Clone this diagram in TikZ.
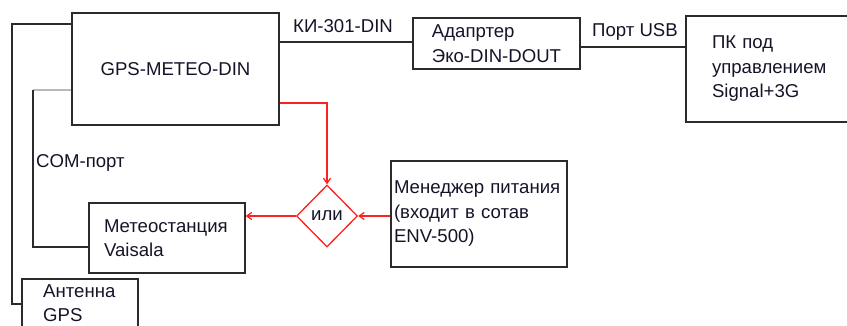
\documentclass[tikz,border=0pt]{standalone}
\usepackage{fontspec}
\setmainfont{Liberation Sans}
\usetikzlibrary{shapes.geometric,arrows.meta}
\definecolor{lineclr}{HTML}{2B2B2B}
\definecolor{redclr}{HTML}{FF2020}
\definecolor{txtclr}{HTML}{141428}
\tikzset{
  box/.style={draw=lineclr, line width=1.3pt, rectangle, inner ysep=0pt, align=left, text=txtclr, font=\fontsize{18.6}{24.5}\selectfont},
  conn/.style={draw=lineclr, line width=1.3pt},
  redconn/.style={draw=redclr, line width=1.3pt},
  redarrow/.style={redconn, -{Straight Barb[length=5pt,width=7pt]}},
  lbl/.style={inner sep=0pt, text=txtclr, font=\fontsize{18.6}{24.5}\selectfont}
}
\begin{document}
\begin{tikzpicture}[x=1pt,y=-1pt]
\useasboundingbox (0,0) rectangle (847,325);
\clip (0,0) rectangle (847,325);
% boxes
\node[box, minimum width=207pt, minimum height=112pt, align=center] (gps) at (175.5,69) {GPS-METEO-DIN};
\node[box, minimum width=167pt, minimum height=51pt, inner xsep=0pt] (adapter) at (496.5,43.5) {Адапртер\\Эко-DIN-DOUT};
\node[box, minimum height=106pt, inner xsep=26pt, text width=132pt] (pc) at (778,69) {ПК под\\управлением\\Signal+3G};
\node[box, minimum height=106pt, inner xsep=3pt, text width=170pt] (power) at (479,214) {Менеджер питания\\(входит в сотав\\ENV-500)};
\node[box, minimum height=70pt, inner xsep=15pt, text width=126pt] (meteo) at (167,238) {Метеостанция\\Vaisala};
\node[box, minimum width=116pt, minimum height=66pt] (antenna) at (80,312) {};
\node[lbl, anchor=north west, align=left] (antlbl) at (43,284) {Антенна\\GPS};
\node[diamond, draw=redclr, line width=1.3pt, minimum width=61pt, minimum height=62pt, inner sep=0pt, text=txtclr, font=\fontsize{18.6}{22}\selectfont] (dia) at (327,216) {или};
% coordinates
\coordinate (o1) at (12,24);
\coordinate (o2) at (12,304);
\coordinate (g1) at (33,90);
\coordinate (g2) at (33,247);
\coordinate (k) at (0,42);
\coordinate (u) at (0,47);
\coordinate (r) at (0,103);
% black connectors
\draw[conn] (gps.west |- o1) -- (o1) -- (o2) -- (antenna.west |- o2);
\draw[draw=gray!55, line width=1.6pt] (gps.west |- g1) -- (g1);
\draw[conn] (g1) -- (g2) -- (meteo.west |- g2);
\draw[conn] (gps.east |- k) -- (adapter.west |- k);
\draw[conn] (adapter.east |- u) -- (pc.west |- u);
% labels
\node[lbl, anchor=base west] (kilbl) at (293,32) {КИ-301-DIN};
\node[lbl, anchor=base west] (usblbl) at (592,36) {Порт USB};
\node[lbl, anchor=base west] (comlbl) at (36,167) {COM-порт};
% red connectors
\draw[redarrow] (gps.east |- r) -| (dia.north);
\draw[redarrow] (dia.west) -- (meteo.east |- dia.west);
\draw[redarrow] (power.west |- dia.east) -- (dia.east);
\end{tikzpicture}
\end{document}
